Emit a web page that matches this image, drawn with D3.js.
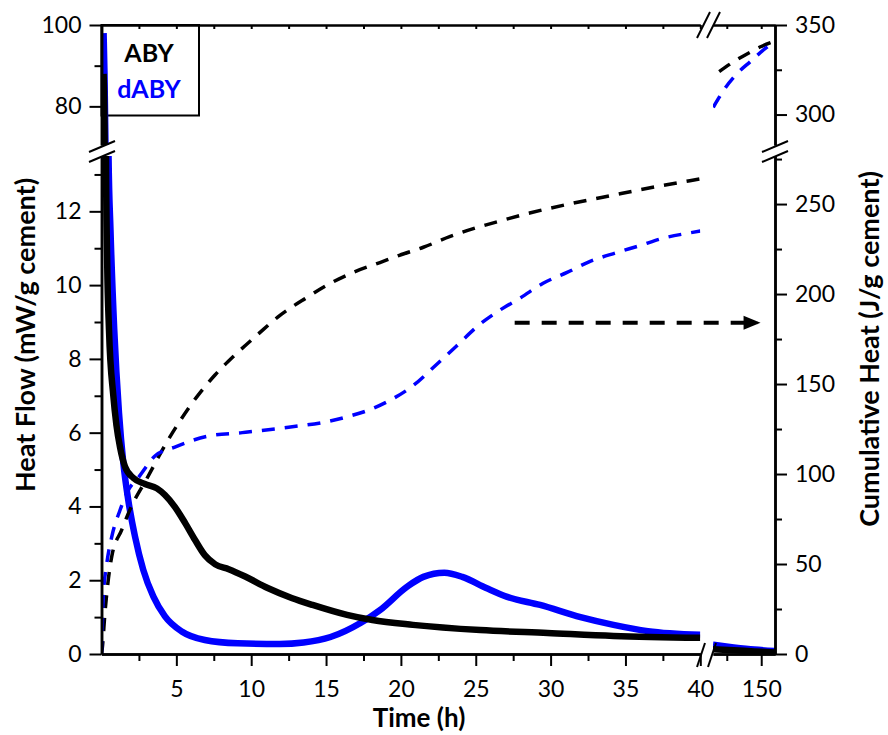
<!DOCTYPE html>
<html>
<head>
<meta charset="utf-8">
<script src="https://cdn.jsdelivr.net/npm/d3@7/dist/d3.min.js"></script>
<style>
body { margin: 0; background: #fff; }
text { font-family: Lato, "Open Sans", sans-serif; }
</style>
</head>
<body>
<script>

// heat flow, mW/g cement  [time h, value]
var abyFlowA = [[0.14,88],[0.2,76],[0.25,40],[0.3,13.5],[0.38,10.6],[0.5,8.8],[0.79,7.0],[1.0,6.2],[1.24,5.6],[1.57,5.08],
    [2.13,4.77],[2.9,4.61],[3.7,4.49],[4.24,4.31],[4.9,3.99],[5.6,3.54],[6.25,3.09],[6.9,2.68],[7.6,2.43],[8.5,2.30],
    [9.6,2.10],[11.1,1.79],[12.7,1.52],[14.1,1.33],[16.4,1.06],[18.1,0.92],[20.8,0.79],[25.3,0.65],[29.8,0.57],
    [34.2,0.49],[40,0.44]];
var dabyFlowA = [[0.14,98],[0.2,88],[0.3,60],[0.4,30],[0.47,13.5],[0.6,11.5],[0.85,8.8],[1.17,6.53],[1.46,5.17],
    [1.79,4.17],[2.24,3.18],[2.79,2.28],[3.46,1.56],[4.24,1.02],[5.36,0.61],[6.9,0.38],[9.1,0.29],[11.9,0.27],
    [13.5,0.31],[15.3,0.46],[17.3,0.84],[18.6,1.19],[20.4,1.82],[21.5,2.09],[22.9,2.2],[24.1,2.09],[25.7,1.79],
    [27.1,1.55],[29.3,1.33],[32,1.0],[34.2,0.79],[36.5,0.62],[40,0.52]];
var abyFlowB = [[115,0.13],[130,0.1],[145,0.07],[160,0.04]];
var dabyFlowB = [[115,0.25],[130,0.18],[145,0.12],[160,0.08]];

// cumulative heat, J/g cement
var abyHeatA = [[0,0],[0.05,3],[0.23,22.7],[0.68,54],[1.35,69],[2.0,82],[3.0,97],[4.24,116],[5.36,131],[6.47,144],
    [7.58,155],[8.9,166],[10.5,178],[11.9,188],[13.7,198],[15.3,206],[16.8,212],[18.6,217.5],[19.9,221.5],
    [21.5,226],[23.3,232],[25.1,237],[26.8,241],[28.6,245],[31.8,251],[34.2,255],[36,258],[39.3,263],[40,264]];
var dabyHeatA = [[0,0],[0.05,15],[0.12,32],[0.35,50],[0.68,65],[1.24,80],[1.79,91],[2.46,98],[3.57,110],[4.9,115],
    [7.1,121],[9.4,123],[12.5,126],[15,129],[16.5,132],[18,136],[19.5,142],[20.8,149],[22.4,161],[23.7,171],
    [25.1,182],[26.6,191],[28,198],[29.5,206],[31.1,212],[32.6,218],[34.4,223],[36,227],[37.5,231],[39.3,234],[40,235]];
var abyHeatB = [[119.5,324],[130,329.5],[140,334],[150,338],[160,341]];
var dabyHeatB = [[115.2,304],[119,309],[124,315],[132,322.5],[142,329.5],[154,337.5],[160,340.5]];

var xMajorA = [5,10,15,20,25,30,35,40];
var xMinorA = [2.5,7.5,12.5,17.5,22.5,27.5,32.5,37.5];
var xMajorB = [150];
var xMinorB = [125];
var yMajorLo = [0,2,4,6,8,10,12];
var yMinorLo = [1,3,5,7,9,11,13];
var yMajorHi = [80,100];
var yMinorHi = [90];
var rMajorLo = [0,50,100,150,200,250];
var rMinorLo = [25,75,125,175,225,275];
var rMajorHi = [300,350];
var rMinorHi = [325];

var series = ["ABY", "dABY"];
var colours = ["#000000", "#0000ff"];

var W = 888, H = 735;
var svg = d3.select("body").append("svg").attr("width", W).attr("height", H);

var xA = d3.scaleLinear().domain([0, 40]).range([101.5, 700.3]);
var xB = d3.scaleLinear().domain([115, 160]).range([713, 775]);
var yLo = d3.scaleLinear().domain([0, 13.5]).range([654, 156]);
var yHi = d3.scaleLinear().domain([70.5, 100]).range([145, 25]);
var rLo = d3.scaleLinear().domain([0, 276.7]).range([654, 156]);
var rHi = d3.scaleLinear().domain([283, 350]).range([145, 25]);

var cols = [ { x: xA, flow: [dabyFlowA, abyFlowA], heat: [abyHeatA, dabyHeatA] },
             { x: xB, flow: [dabyFlowB, abyFlowB], heat: [abyHeatB, dabyHeatB] } ];
var rows = [ { y: yLo, r: rLo }, { y: yHi, r: rHi } ];

// legend box goes under the curves
svg.append("rect").attr("x", 101.5).attr("y", 25).attr("width", 97.5).attr("height", 90.5)
    .attr("fill", "none").attr("stroke", "#000").attr("stroke-width", 2);

var defs = svg.append("defs");
var n = 0;

cols.forEach(function (c) {
    rows.forEach(function (rw) {
        var id = "clip" + (n++);
        var xr = c.x.range(), yr = rw.y.range();
        defs.append("clipPath").attr("id", id).append("rect")
            .attr("x", xr[0]).attr("y", yr[1])
            .attr("width", xr[1] - xr[0]).attr("height", yr[0] - yr[1]);
        var g = svg.append("g").attr("clip-path", "url(#" + id + ")");

        var flowLine = d3.line().curve(d3.curveMonotoneX)
            .x(function (d) { return c.x(d[0]); })
            .y(function (d) { return rw.y(d[1]); });
        var heatLine = d3.line().curve(d3.curveMonotoneX)
            .x(function (d) { return c.x(d[0]); })
            .y(function (d) { return rw.r(d[1]); });

        // blue solid first, black on top
        c.flow.forEach(function (s, i) {
            g.append("path").attr("d", flowLine(s)).attr("fill", "none")
                .attr("stroke", i == 0 ? colours[1] : colours[0])
                .attr("stroke-width", 6.5);
        });
        c.heat.forEach(function (s, i) {
            g.append("path").attr("d", heatLine(s)).attr("fill", "none")
                .attr("stroke", colours[i])
                .attr("stroke-width", 3.5)
                .attr("stroke-dasharray", "13,10");
        });
    });
});

// axes
function styleAxis(g) {
    g.select(".domain").attr("stroke", "#000").attr("stroke-width", 2.5);
    g.selectAll(".tick line").attr("stroke", "#000").attr("stroke-width", 2);
    g.selectAll(".tick text").attr("fill", "#000").style("font-size", "23px");
}

function addAxis(axisFn, scale, major, minor, tf, pos) {
    var g = svg.append("g").attr("transform", pos);
    g.call(axisFn(scale).tickValues(minor).tickSize(7).tickSizeOuter(0).tickFormat(""));
    styleAxis(g);
    var g2 = svg.append("g").attr("transform", pos);
    g2.call(axisFn(scale).tickValues(major).tickSize(12).tickSizeOuter(0).tickPadding(8).tickFormat(tf));
    styleAxis(g2);
    return g2;
}

var fmt = d3.format("d");
var bA = addAxis(d3.axisBottom, xA, xMajorA, xMinorA, fmt, "translate(0,654)");
var bB = addAxis(d3.axisBottom, xB, xMajorB, xMinorB, fmt, "translate(0,654)");
addAxis(d3.axisLeft, yLo, yMajorLo, yMinorLo, fmt, "translate(101.5,0)");
addAxis(d3.axisLeft, yHi, yMajorHi, yMinorHi, fmt, "translate(101.5,0)");
addAxis(d3.axisRight, rLo, rMajorLo, rMinorLo, fmt, "translate(775,0)");
addAxis(d3.axisRight, rHi, rMajorHi, rMinorHi, fmt, "translate(775,0)");

// bottom labels: baseline 43px under the axis
[bA, bB].forEach(function (g) {
    g.selectAll(".tick text").attr("y", 43).attr("dy", null);
});

// top axis, small inward ticks
[[xA, xMinorA.concat(xMajorA)], [xB, xMinorB.concat(xMajorB)]].forEach(function (p) {
    var g = svg.append("g").attr("transform", "translate(0,25)");
    g.call(d3.axisBottom(p[0]).tickValues(p[1]).tickSize(4).tickSizeOuter(0).tickFormat(""));
    styleAxis(g);
});

// break marks
function breakMark(x0, y0, x1, y1) {
    svg.append("line").attr("x1", x0).attr("y1", y0).attr("x2", x1).attr("y2", y1)
        .attr("stroke", "#000").attr("stroke-width", 2);
}
breakMark(89, 152, 115, 141); breakMark(89, 162, 115, 151);
breakMark(762, 152, 788, 141); breakMark(762, 162, 788, 151);
breakMark(697, 667, 705, 643); breakMark(708, 667, 716, 643);
breakMark(697, 38, 710, 12); breakMark(707, 38, 720, 12);

// arrow pointing to right axis
var ay = rLo(184);
svg.append("line").attr("x1", xA(27.6)).attr("y1", ay).attr("x2", xB(147.5)).attr("y2", ay)
    .attr("stroke", "#000").attr("stroke-width", 4).attr("stroke-dasharray", "15,12");
svg.append("path")
    .attr("d", "M" + xB(149.5) + "," + ay + "l-17,-7l0,14z")
    .attr("fill", "#000");

// legend
series.forEach(function (s, i) {
    svg.append("text").attr("x", 149).attr("y", 62 + i * 36)
        .attr("text-anchor", "middle").attr("fill", colours[i])
        .style("font-size", "25px").style("font-weight", "bold").text(s);
});

// titles
svg.append("text").attr("x", 419).attr("y", 727).attr("text-anchor", "middle")
    .style("font-size", "26px").style("font-weight", "bold").text("Time (h)");
svg.append("text").attr("transform", "translate(35,335) rotate(-90)").attr("text-anchor", "middle")
    .style("font-size", "27px").style("font-weight", "bold").text("Heat Flow (mW/g cement)");
svg.append("text").attr("transform", "translate(879,349) rotate(-90)").attr("text-anchor", "middle")
    .style("font-size", "27px").style("font-weight", "bold").text("Cumulative Heat (J/g cement)");

</script>
</body>
</html>
